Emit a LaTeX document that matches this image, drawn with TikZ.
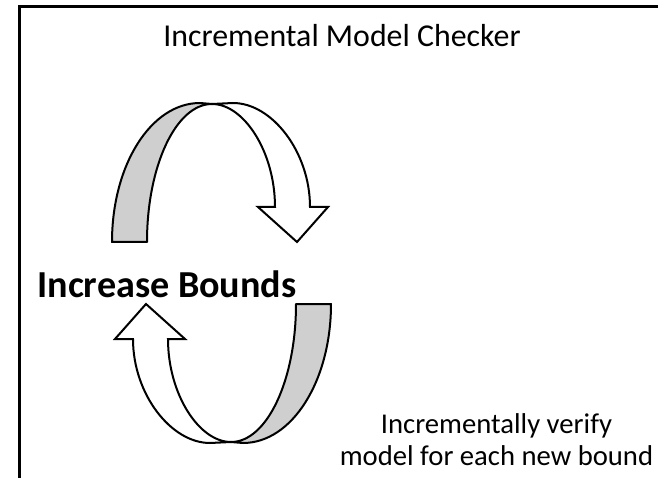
\documentclass[tikz,border=0pt]{standalone}
\usepackage{fontspec}
\setmainfont{Carlito}
\usepackage{tikz}
\usetikzlibrary{arrows,shapes}
\tikzstyle{frame}=[draw,line width=2.25pt,line join=miter]
\tikzstyle{band}=[draw,fill=black!19,line width=1.5pt,line join=round]
\tikzstyle{front}=[draw,fill=white,line width=1.5pt,line join=miter]
\tikzstyle{label}=[inner sep=0pt,anchor=base]

\begin{document}
\begin{tikzpicture}[x=0.75pt,y=-0.75pt]
    \useasboundingbox (0,0) rectangle (658,478);
    % First we draw the frame
    \draw[frame] (660,7) -- (19,7) -- (19,480);
    % The two turning ribbons, the lower one is the upper one turned round
    \foreach \ang in {0,180}
    {
        \begin{scope}[rotate around={\ang:(221.5,273)}]
        \path[band] (112,242) -- (147,242) .. controls (147,166) and (176,104) .. (212,104)
            -- (200,103) .. controls (151,103) and (112,165) .. cycle;
        \path[front] (212,104) .. controls (244,104) and (275,152) .. (275,207) -- (258,207)
            -- (297,242) -- (328,207) -- (310,207) .. controls (310,152) and (272,103) .. (233,103) -- cycle;
        \end{scope}
    }
    % Then the texts
    \node[label,font=\fontsize{23.9}{28}\selectfont] (title) at (342,47) {Incremental Model Checker};
    \node[label,font=\bfseries\fontsize{28.6}{34}\selectfont] (bounds) at (167,297) {Increase Bounds};
    \node[inner sep=0pt,align=center,font=\fontsize{21.5}{24}\selectfont] (verify) at (496.5,440) {Incrementally verify\\model for each new bound};
\end{tikzpicture}
\end{document}
